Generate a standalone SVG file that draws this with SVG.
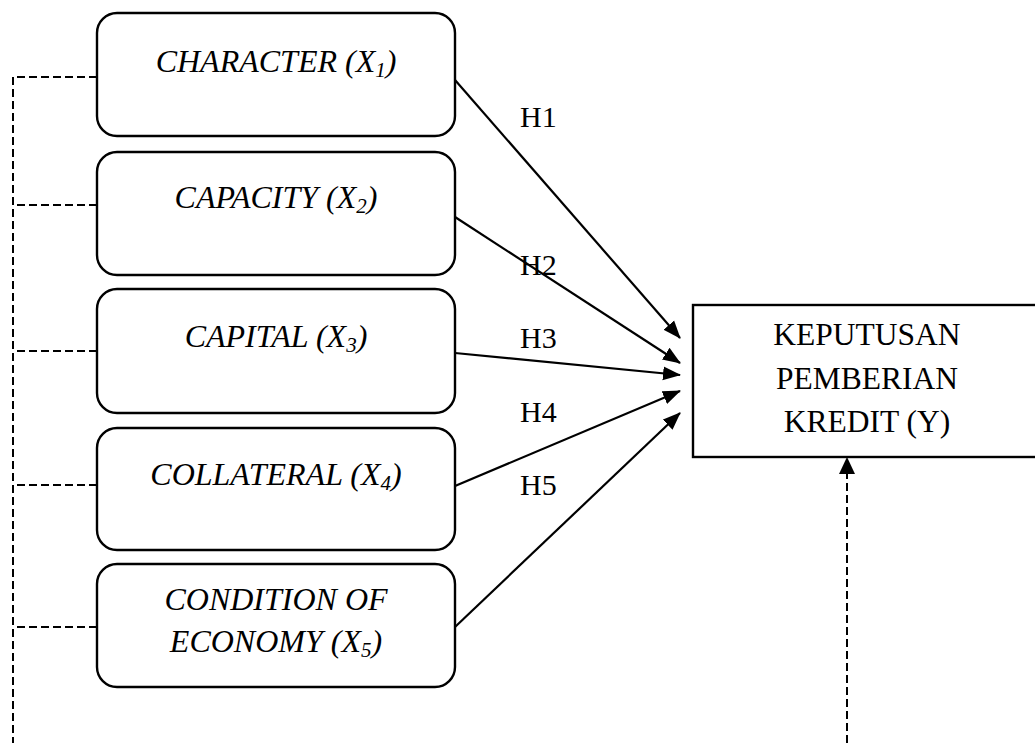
<svg xmlns="http://www.w3.org/2000/svg" width="1035" height="743" viewBox="0 0 1035 743">
<style>
.box{fill:#fff;stroke:#000;stroke-width:2.4}
.t{font-family:"Liberation Serif","Times New Roman",serif;font-size:31.5px;fill:#000;text-anchor:middle}
.i{font-style:italic;font-size:32px}
.sub{font-size:21px}
.lbl{font-family:"Liberation Serif","Times New Roman",serif;font-size:30px;fill:#000}
.ar{stroke:#000;stroke-width:2.2;fill:none;marker-end:url(#ah)}
.d{stroke:#000;stroke-width:2;fill:none;stroke-dasharray:8 4}
</style>
<defs>
<marker id="ah" markerWidth="18" markerHeight="16" refX="17" refY="8" orient="auto" markerUnits="userSpaceOnUse">
<path d="M0,1 L18,8 L0,15 Z" fill="#000"/>
</marker>
</defs>
<rect width="1035" height="743" fill="#fff"/>
<g id="connectors">
<path class="d" d="M97,77 H13 V743"/>
<path class="d" d="M97,205 H13"/>
<path class="d" d="M97,351 H13"/>
<path class="d" d="M97,485 H13"/>
<path class="d" d="M97,627 H13"/>
<path class="d" d="M847,743 V473"/>
<path d="M847,457 L839,474 L855,474 Z" fill="#000"/>
<line class="ar" x1="455" y1="80" x2="680" y2="338"/>
<line class="ar" x1="455" y1="217" x2="680" y2="363"/>
<line class="ar" x1="455" y1="353" x2="680" y2="375"/>
<line class="ar" x1="455" y1="486" x2="680" y2="391"/>
<line class="ar" x1="455" y1="627" x2="680" y2="413"/>
<text class="lbl" x="520" y="127">H1</text>
<text class="lbl" x="520" y="275">H2</text>
<text class="lbl" x="520" y="348">H3</text>
<text class="lbl" x="520" y="422">H4</text>
<text class="lbl" x="520" y="495">H5</text>
</g>
<g id="x1">
<rect class="box" x="97" y="13" width="358" height="123" rx="20"/>
<text class="t i" x="276" y="72">CHARACTER (X<tspan class="sub" dy="5">1</tspan><tspan dy="-5">)</tspan></text>
</g>
<g id="x2">
<rect class="box" x="97" y="152" width="358" height="123" rx="20"/>
<text class="t i" x="276" y="208">CAPACITY (X<tspan class="sub" dy="5">2</tspan><tspan dy="-5">)</tspan></text>
</g>
<g id="x3">
<rect class="box" x="97" y="289" width="358" height="124" rx="20"/>
<text class="t i" x="276" y="347">CAPITAL (X<tspan class="sub" dy="5">3</tspan><tspan dy="-5">)</tspan></text>
</g>
<g id="x4">
<rect class="box" x="97" y="428" width="358" height="122" rx="20"/>
<text class="t i" x="276" y="485">COLLATERAL (X<tspan class="sub" dy="5">4</tspan><tspan dy="-5">)</tspan></text>
</g>
<g id="x5">
<rect class="box" x="97" y="564" width="358" height="123" rx="20"/>
<text class="t i" x="276" y="610">CONDITION OF</text>
<text class="t i" x="276" y="652">ECONOMY (X<tspan class="sub" dy="5">5</tspan><tspan dy="-5">)</tspan></text>
</g>
<g id="y">
<rect class="box" x="693" y="305" width="360" height="152"/>
<text class="t" x="867" y="345">KEPUTUSAN</text>
<text class="t" x="867" y="389">PEMBERIAN</text>
<text class="t" x="867" y="432">KREDIT (Y)</text>
</g>
</svg>
